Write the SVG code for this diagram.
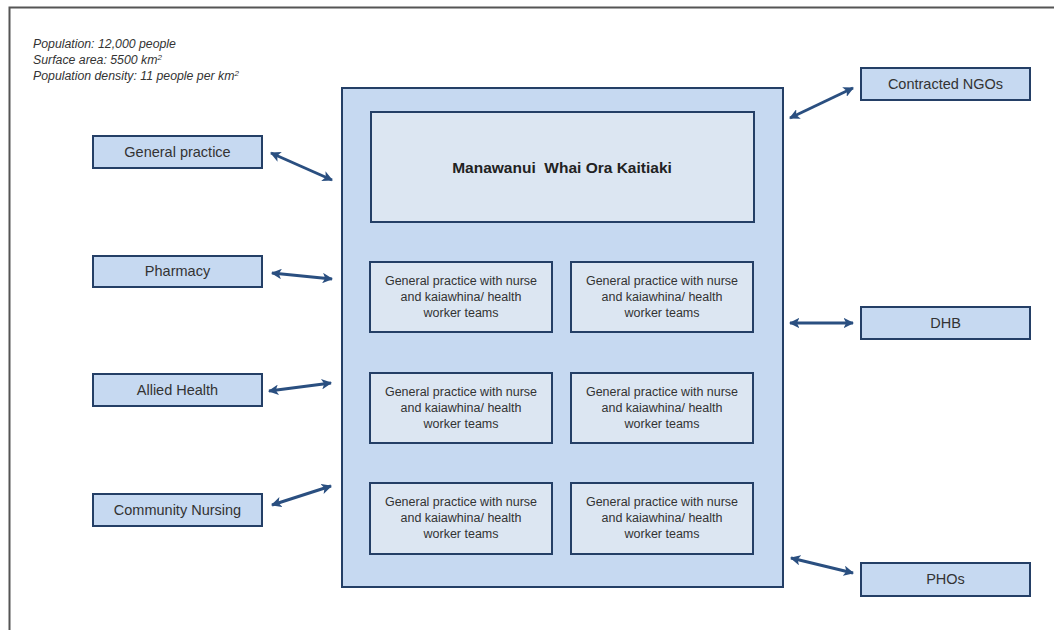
<svg xmlns="http://www.w3.org/2000/svg" width="1054" height="630" viewBox="0 0 1054 630">
<defs>
<marker id="ah" viewBox="0 0 10 10" refX="9" refY="5" markerWidth="3.5" markerHeight="3.5" orient="auto-start-reverse" markerUnits="strokeWidth">
<path d="M0,0 L10,5 L0,10 L2.5,5 Z" fill="#2a4f80"/>
</marker>
</defs>
<style>
.box{fill:#c6d9f1;stroke:#243f66;stroke-width:2}
.inner{fill:#dce6f2;stroke:#243f66;stroke-width:2}
.lbl{font-family:"Liberation Sans",Arial,sans-serif;font-size:14.5px;fill:#333;text-anchor:middle}
.gp{font-family:"Liberation Sans",Arial,sans-serif;font-size:12.5px;fill:#333;text-anchor:middle}
.info{font-family:"Liberation Sans",Arial,sans-serif;font-size:12.3px;font-style:italic;fill:#333}
.arr{stroke:#2a4f80;stroke-width:3;fill:none;marker-start:url(#ah);marker-end:url(#ah)}
</style>
<rect width="1054" height="630" fill="#fff"/>
<path d="M9.5,630 V7.5 H1054" fill="none" stroke="#555" stroke-width="2"/>
<g id="info">
<text class="info" x="33" y="48">Population: 12,000 people</text>
<text class="info" x="33" y="64">Surface area: 5500 km<tspan font-size="8" dy="-4">2</tspan></text>
<text class="info" x="33" y="80">Population density: 11 people per km<tspan font-size="8" dy="-4">2</tspan></text>
</g>
<g id="container"><rect class="box" x="342" y="88" width="441" height="499"/></g>
<g id="manawanui"><rect class="inner" x="371" y="112" width="383" height="110"/>
<text x="562" y="173" font-family="Liberation Sans,Arial,sans-serif" font-size="15.5" font-weight="bold" fill="#222" text-anchor="middle" xml:space="preserve">Manawanui  Whai Ora Kaitiaki</text></g>
<g id="gp1"><rect class="inner" x="370" y="262" width="182" height="70"/>
<text class="gp" x="461" y="285">General practice with nurse</text><text class="gp" x="461" y="301">and kaiawhina/ health</text><text class="gp" x="461" y="317">worker teams</text></g>
<g id="gp2"><rect class="inner" x="571" y="262" width="182" height="70"/>
<text class="gp" x="662" y="285">General practice with nurse</text><text class="gp" x="662" y="301">and kaiawhina/ health</text><text class="gp" x="662" y="317">worker teams</text></g>
<g id="gp3"><rect class="inner" x="370" y="373" width="182" height="70"/>
<text class="gp" x="461" y="396">General practice with nurse</text><text class="gp" x="461" y="412">and kaiawhina/ health</text><text class="gp" x="461" y="428">worker teams</text></g>
<g id="gp4"><rect class="inner" x="571" y="373" width="182" height="70"/>
<text class="gp" x="662" y="396">General practice with nurse</text><text class="gp" x="662" y="412">and kaiawhina/ health</text><text class="gp" x="662" y="428">worker teams</text></g>
<g id="gp5"><rect class="inner" x="370" y="483" width="182" height="71"/>
<text class="gp" x="461" y="506">General practice with nurse</text><text class="gp" x="461" y="522">and kaiawhina/ health</text><text class="gp" x="461" y="538">worker teams</text></g>
<g id="gp6"><rect class="inner" x="571" y="483" width="182" height="71"/>
<text class="gp" x="662" y="506">General practice with nurse</text><text class="gp" x="662" y="522">and kaiawhina/ health</text><text class="gp" x="662" y="538">worker teams</text></g>
<g id="general-practice"><rect class="box" x="93" y="136" width="169" height="32"/><text class="lbl" x="177.5" y="157">General practice</text></g>
<g id="pharmacy"><rect class="box" x="93" y="256" width="169" height="31"/><text class="lbl" x="177.5" y="276">Pharmacy</text></g>
<g id="allied-health"><rect class="box" x="93" y="374" width="169" height="32"/><text class="lbl" x="177.5" y="395">Allied Health</text></g>
<g id="community-nursing"><rect class="box" x="93" y="494" width="169" height="32"/><text class="lbl" x="177.5" y="515">Community Nursing</text></g>
<g id="contracted-ngos"><rect class="box" x="861" y="68" width="169" height="32"/><text class="lbl" x="945.5" y="89">Contracted NGOs</text></g>
<g id="dhb"><rect class="box" x="861" y="307" width="169" height="32"/><text class="lbl" x="945.5" y="328">DHB</text></g>
<g id="phos"><rect class="box" x="861" y="563" width="169" height="33"/><text class="lbl" x="945.5" y="584">PHOs</text></g>
<g id="connectors">
<line class="arr" x1="271" y1="153" x2="332" y2="180"/>
<line class="arr" x1="272" y1="273" x2="332" y2="279"/>
<line class="arr" x1="269" y1="391" x2="331" y2="383"/>
<line class="arr" x1="272" y1="505" x2="331" y2="486"/>
<line class="arr" x1="790" y1="118" x2="853" y2="88"/>
<line class="arr" x1="790" y1="323" x2="853" y2="323"/>
<line class="arr" x1="791" y1="558" x2="853" y2="573"/>
</g>
</svg>
